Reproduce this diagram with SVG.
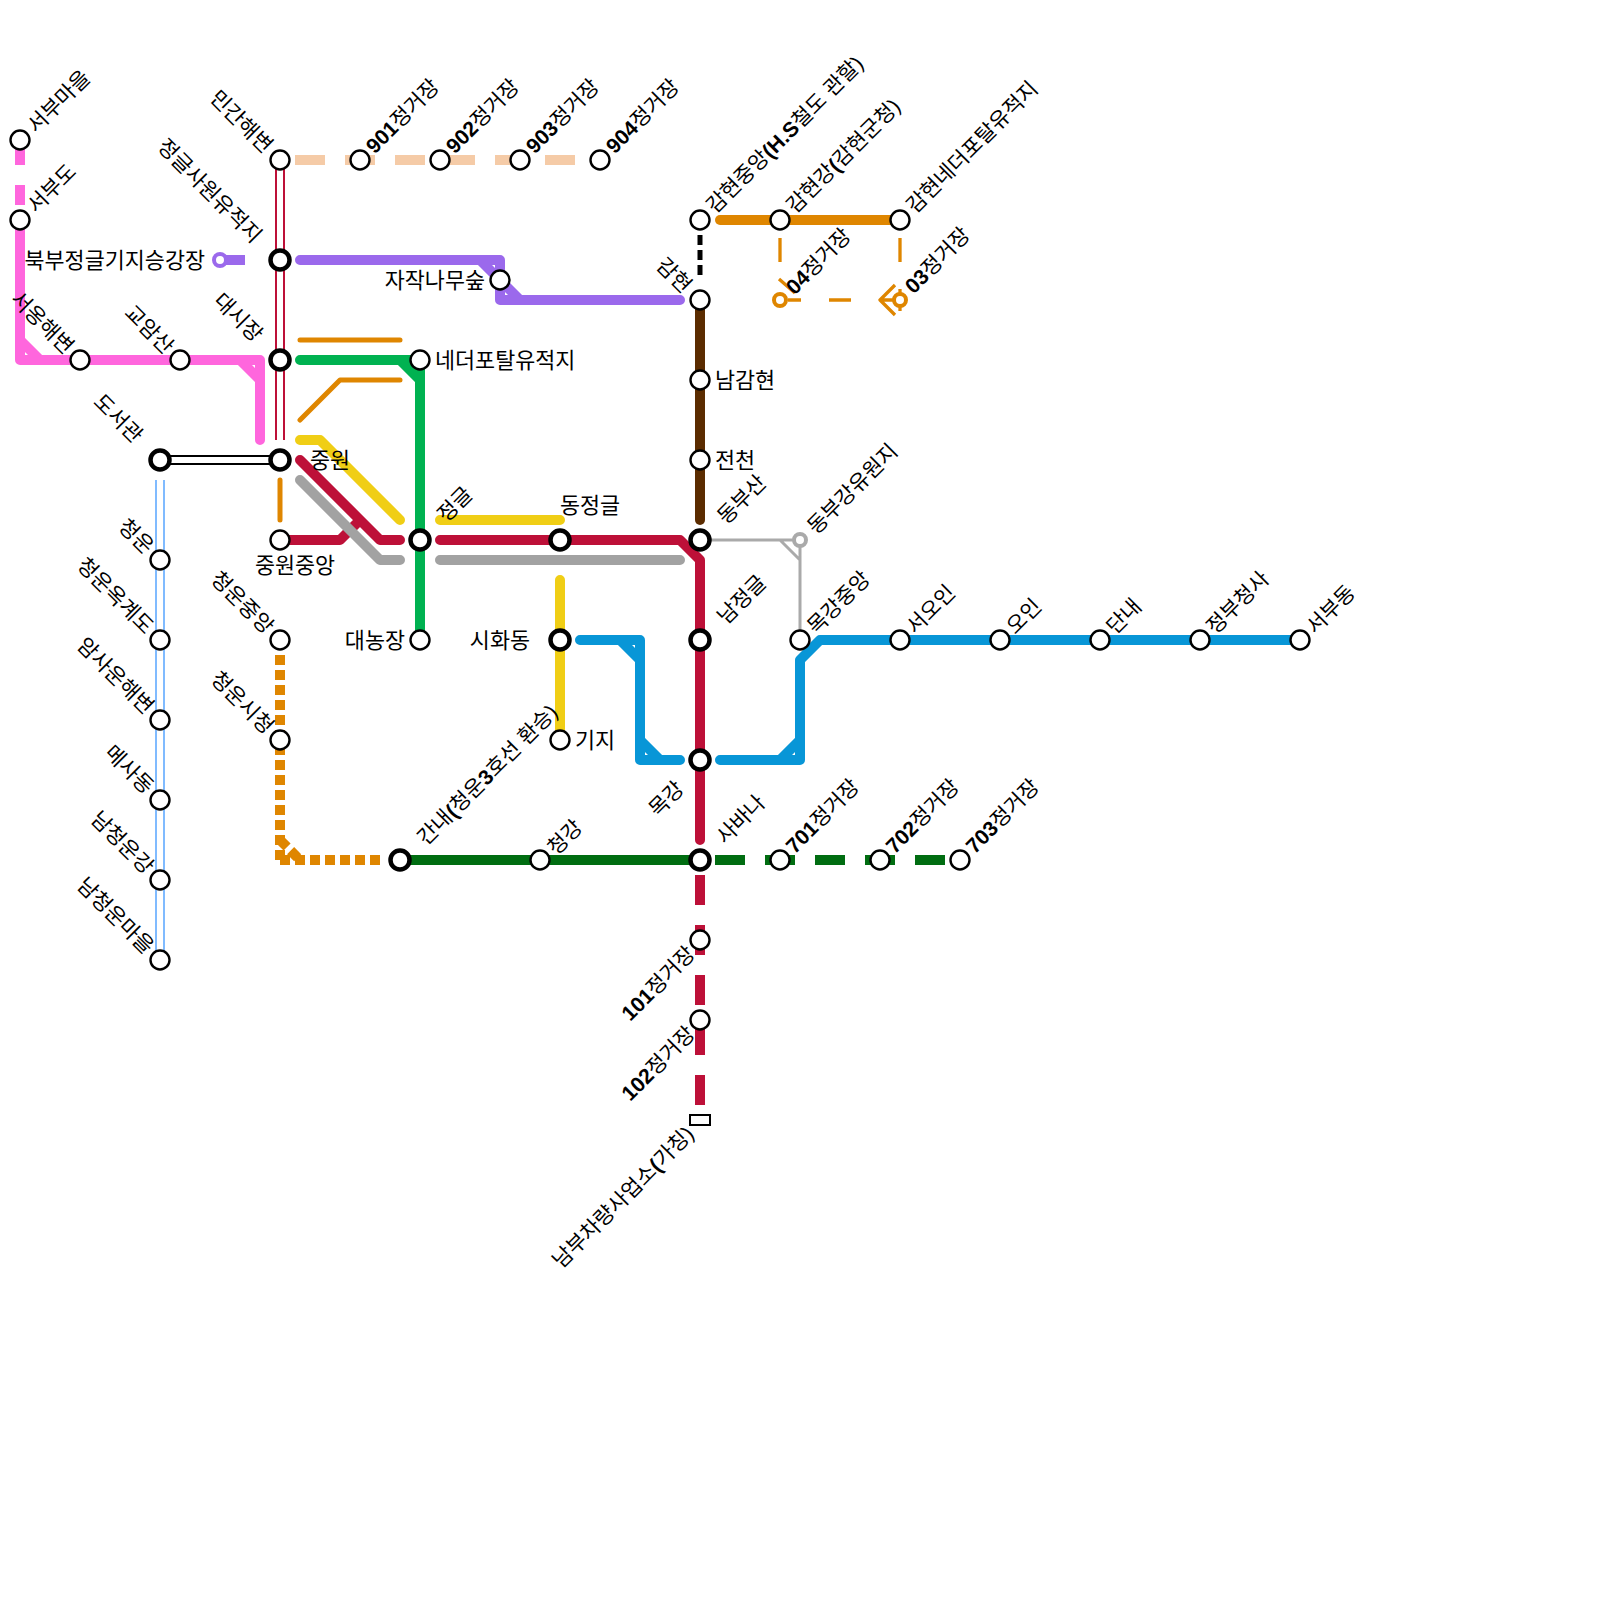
<svg xmlns="http://www.w3.org/2000/svg" width="1600" height="1600" viewBox="0 0 1600 1600">
<style>
text{font-family:"Liberation Sans","Noto Sans CJK KR",sans-serif;font-size:21.8px;fill:#000;dominant-baseline:central}
text[transform]{font-size:21.2px}
.e{text-anchor:end}.m{text-anchor:middle}
tspan{font-weight:bold}
path{fill:none;stroke-linecap:round;stroke-linejoin:round;stroke-width:10}
.b{stroke-linecap:butt}
.d{stroke-linecap:butt;stroke-dasharray:30 20}
.o{stroke-linecap:butt;stroke-dasharray:10 5}
.s{fill:#fff;stroke:#000;stroke-width:2.4}
.x{fill:#fff;stroke:#000;stroke-width:4.5}
.pk{stroke:#ff66dd}.pu{stroke:#9b69ec}.re{stroke:#bd1038}.am{stroke:#df8600}.gr{stroke:#00b251}.ye{stroke:#f0ce15}.ga{stroke:#a2a2a2}.bl{stroke:#0896d7}.dg{stroke:#006d11}.br{stroke:#5b2c00}.pe{stroke:#f5cba7}
</style>
<g id="connectors">
<path class="pk b" d="M20 145V165M20 185V205"/>
<path class="pk" d="M20 220V360H260V440M20 340L40 360M240 360L260 380"/>
<path class="pu b" d="M220 260H245"/>
<path class="pu" d="M300 260H500V300H680M480 260L500 280L520 300"/>
<path class="re b" d="M280 160V440"/>
<path class="b" style="stroke:#fff;stroke-width:6" d="M280 160V440"/>
<path class="b" style="stroke:#000" d="M160 460H280"/>
<path class="b" style="stroke:#fff;stroke-width:6" d="M160 460H280"/>
<path class="b" style="stroke:#80bbff" d="M160 480V960"/>
<path class="b" style="stroke:#fff;stroke-width:6" d="M160 480V960"/>
<path class="pe d" d="M295 160H575"/>
<path class="am" style="stroke-width:5" d="M300 340H400M300 420L340 380H400M280 480V520"/>
<path class="gr" d="M300 360H420V640M400 360L420 380"/>
<path class="ye" d="M300 440H320L400 520M440 520H560M560 580V740"/>
<path class="re" d="M280 540H340L360 520M300 460L380 540H400M440 540H680L700 560V840"/>
<path class="ga" d="M300 480L380 560H400M440 560H680"/>
<path class="bl" d="M580 640H640V760H680M620 640L640 660M640 740L660 760M720 760H800V660L820 640H1300M780 760L800 740"/>
<path class="ga b" style="stroke-width:3;stroke:#aaa" d="M700 540H800V640M780 540L800 560"/>
<path class="br" d="M700 300V520"/>
<path class="b" style="stroke:#000;stroke-width:5;stroke-dasharray:10 5" d="M700 235V275"/>
<path class="am" d="M720 220H900"/>
<path class="am b" style="stroke-width:3.3" d="M780 238V262M900 238V262M779 279L795 293M788 300H801M829 300H851M895 285L880 300L895 315M880 300H900M900 289V311"/>
<path class="am o" d="M280 655V860M280 860H380M280 840L300 860"/>
<path class="dg" d="M400 860H700"/>
<path class="dg d" d="M715 860H945"/>
<path class="re d" d="M700 875V1105"/>
</g>
<g id="st-seobumaeul"><circle class="s" cx="20" cy="140" r="9.5"/><text transform="translate(31 129) rotate(-45)">서부마을</text></g>
<g id="st-seobudo"><circle class="s" cx="20" cy="220" r="9.5"/><text transform="translate(31 209) rotate(-45)">서부도</text></g>
<g id="st-haebyeon"><circle class="s" cx="80" cy="360" r="9.5"/><text class="e" transform="translate(70 350) rotate(45)">서옹해변</text></g>
<g id="st-gyoam"><circle class="s" cx="180" cy="360" r="9.5"/><text class="e" transform="translate(170 350) rotate(45)">교암산</text></g>
<g id="st-bukbu"><circle cx="220" cy="260" r="6" fill="#fff" stroke="#9b69ec" stroke-width="4"/><text class="e" x="205" y="260">북부정글기지승강장</text></g>
<g id="st-mingan"><circle class="s" cx="280" cy="160" r="9.5"/><text class="e" transform="translate(269 149) rotate(45)">민간해변</text></g>
<g id="st-901"><circle class="s" cx="360" cy="160" r="9.5"/><text transform="translate(369 149) rotate(-45)"><tspan>901</tspan>정거장</text></g>
<g id="st-902"><circle class="s" cx="440" cy="160" r="9.5"/><text transform="translate(449 149) rotate(-45)"><tspan>902</tspan>정거장</text></g>
<g id="st-903"><circle class="s" cx="520" cy="160" r="9.5"/><text transform="translate(529 149) rotate(-45)"><tspan>903</tspan>정거장</text></g>
<g id="st-904"><circle class="s" cx="600" cy="160" r="9.5"/><text transform="translate(609 149) rotate(-45)"><tspan>904</tspan>정거장</text></g>
<g id="st-jeonggeulsawon"><circle class="x" cx="280" cy="260" r="9.5"/><text class="e" transform="translate(258 239) rotate(45)">정글사원유적지</text></g>
<g id="st-jajak"><circle class="s" cx="500" cy="280" r="9.5"/><text class="e" x="485" y="280">자작나무숲</text></g>
<g id="st-daesijang"><circle class="x" cx="280" cy="360" r="9.5"/><text class="e" transform="translate(259 338) rotate(45)">대시장</text></g>
<g id="st-nether"><circle class="s" cx="420" cy="360" r="9.5"/><text x="435" y="360">네더포탈유적지</text></g>
<g id="st-doseogwan"><circle class="x" cx="160" cy="460" r="9.5"/><text class="e" transform="translate(139 439) rotate(45)">도서관</text></g>
<g id="st-jungwon"><circle class="x" cx="280" cy="460" r="9.5"/><text x="310" y="460">중원</text></g>
<g id="st-jungwonjungang"><circle class="s" cx="280" cy="540" r="9.5"/><text class="m" x="295" y="565">중원중앙</text></g>
<g id="st-jeonggeul"><circle class="x" cx="420" cy="540" r="9.5"/><text transform="translate(441 518) rotate(-45)">정글</text></g>
<g id="st-dongjeonggeul"><circle class="x" cx="560" cy="540" r="9.5"/><text x="560" y="505">동정글</text></g>
<g id="st-daenong"><circle class="s" cx="420" cy="640" r="9.5"/><text class="e" x="405" y="640">대농장</text></g>
<g id="st-sihwa"><circle class="x" cx="560" cy="640" r="9.5"/><text class="e" x="530" y="640">시화동</text></g>
<g id="st-giji"><circle class="s" cx="560" cy="740" r="9.5"/><text x="575" y="740">기지</text></g>
<g id="st-cheongwonjungang"><circle class="s" cx="280" cy="640" r="9.5"/><text class="e" transform="translate(270 630) rotate(45)">청운중앙</text></g>
<g id="st-cheongwonsicheong"><circle class="s" cx="280" cy="740" r="9.5"/><text class="e" transform="translate(270 730) rotate(45)">청운시청</text></g>
<g id="st-cheongwon"><circle class="s" cx="160" cy="560" r="9.5"/><text class="e" transform="translate(150 550) rotate(45)">청운</text></g>
<g id="st-okgye"><circle class="s" cx="160" cy="640" r="9.5"/><text class="e" transform="translate(150 630) rotate(45)">청운옥계도</text></g>
<g id="st-amsa"><circle class="s" cx="160" cy="720" r="9.5"/><text class="e" transform="translate(150 710) rotate(45)">암사운해변</text></g>
<g id="st-mesa"><circle class="s" cx="160" cy="800" r="9.5"/><text class="e" transform="translate(150 790) rotate(45)">메사동</text></g>
<g id="st-namcheonggang"><circle class="s" cx="160" cy="880" r="9.5"/><text class="e" transform="translate(150 870) rotate(45)">남청운강</text></g>
<g id="st-namcheongmaeul"><circle class="s" cx="160" cy="960" r="9.5"/><text class="e" transform="translate(150 950) rotate(45)">남청운마을</text></g>
<g id="st-gannae"><circle class="x" cx="400" cy="860" r="9.5"/><text transform="translate(421 841) rotate(-45)">간내<tspan>(</tspan>청운<tspan>3</tspan>호선 환승)</text></g>
<g id="st-cheonggang"><circle class="s" cx="540" cy="860" r="9.5"/><text transform="translate(551 851) rotate(-45)">청강</text></g>
<g id="st-gamhyeonjungang"><circle class="s" cx="700" cy="220" r="9.5"/><text transform="translate(710 209) rotate(-45)">감현중앙<tspan>(H.S</tspan>철도 관할)</text></g>
<g id="st-gamhyeongang"><circle class="s" cx="780" cy="220" r="9.5"/><text transform="translate(790 209) rotate(-45)">감현강<tspan>(</tspan>감현군청)</text></g>
<g id="st-gamhyeonnether"><circle class="s" cx="900" cy="220" r="9.5"/><text transform="translate(910 209) rotate(-45)">감현네더포탈유적지</text></g>
<g id="st-04"><circle cx="780" cy="300" r="6" fill="#fff" stroke="#df8600" stroke-width="4"/><text transform="translate(789 290) rotate(-45)"><tspan>04</tspan>정거장</text></g>
<g id="st-03"><circle cx="900" cy="300" r="6" fill="#fff" stroke="#df8600" stroke-width="4"/><text transform="translate(908 289) rotate(-45)"><tspan>03</tspan>정거장</text></g>
<g id="st-gamhyeon"><circle class="s" cx="700" cy="300" r="9.5"/><text class="e" transform="translate(688 289) rotate(45)">감현</text></g>
<g id="st-namgamhyeon"><circle class="s" cx="700" cy="380" r="9.5"/><text x="715" y="380">남감현</text></g>
<g id="st-jeoncheon"><circle class="s" cx="700" cy="460" r="9.5"/><text x="715" y="460">전천</text></g>
<g id="st-dongbusan"><circle class="x" cx="700" cy="540" r="9.5"/><text transform="translate(721 520) rotate(-45)">동부산</text></g>
<g id="st-dongbugang"><circle cx="800" cy="540" r="6" fill="#fff" stroke="#aaa" stroke-width="4"/><text transform="translate(811 530) rotate(-45)">동부강유원지</text></g>
<g id="st-namjeonggeul"><circle class="x" cx="700" cy="640" r="9.5"/><text transform="translate(721 620) rotate(-45)">남정글</text></g>
<g id="st-mokgang"><circle class="x" cx="700" cy="760" r="9.5"/><text class="e" transform="translate(680 785) rotate(-45)">목강</text></g>
<g id="st-sabana"><circle class="x" cx="700" cy="860" r="9.5"/><text transform="translate(720 840) rotate(-45)">사바나</text></g>
<g id="st-mokgangjungang"><circle class="s" cx="800" cy="640" r="9.5"/><text transform="translate(811 630) rotate(-45)">목강중앙</text></g>
<g id="st-seoin"><circle class="s" cx="900" cy="640" r="9.5"/><text transform="translate(910 630) rotate(-45)">서오인</text></g>
<g id="st-oin"><circle class="s" cx="1000" cy="640" r="9.5"/><text transform="translate(1010 630) rotate(-45)">오인</text></g>
<g id="st-dannae"><circle class="s" cx="1100" cy="640" r="9.5"/><text transform="translate(1110 630) rotate(-45)">단내</text></g>
<g id="st-jeongbu"><circle class="s" cx="1200" cy="640" r="9.5"/><text transform="translate(1210 630) rotate(-45)">정부청사</text></g>
<g id="st-seobudong"><circle class="s" cx="1300" cy="640" r="9.5"/><text transform="translate(1310 630) rotate(-45)">서부동</text></g>
<g id="st-701"><circle class="s" cx="780" cy="860" r="9.5"/><text transform="translate(789 849) rotate(-45)"><tspan>701</tspan>정거장</text></g>
<g id="st-702"><circle class="s" cx="880" cy="860" r="9.5"/><text transform="translate(889 849) rotate(-45)"><tspan>702</tspan>정거장</text></g>
<g id="st-703"><circle class="s" cx="960" cy="860" r="9.5"/><text transform="translate(969 849) rotate(-45)"><tspan>703</tspan>정거장</text></g>
<g id="st-101"><circle class="s" cx="700" cy="940" r="9.5"/><text class="e" transform="translate(691 950) rotate(-45)"><tspan>101</tspan>정거장</text></g>
<g id="st-102"><circle class="s" cx="700" cy="1020" r="9.5"/><text class="e" transform="translate(691 1030) rotate(-45)"><tspan>102</tspan>정거장</text></g>
<g id="st-nambu"><rect x="690" y="1115" width="20" height="10" fill="#fff" stroke="#000" stroke-width="2"/><text class="e" transform="translate(690 1130) rotate(-45)">남부차량사업소<tspan>(</tspan>가칭)</text></g>
</svg>
